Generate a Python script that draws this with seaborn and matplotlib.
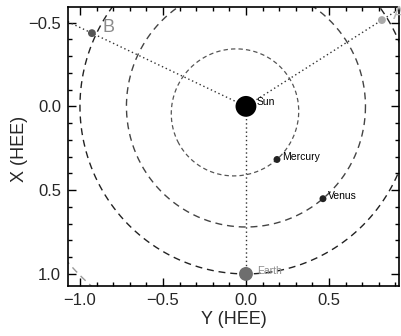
import numpy as np
import matplotlib
matplotlib.use("Agg")
import matplotlib.pyplot as plt
import seaborn as sns

# planet positions in HEE (Y horizontal, X vertical, X axis inverted)
bodies = ["Sun", "Mercury", "Venus", "Earth"]
body_y = [0.0, 0.187, 0.464, 0.0]
body_x = [0.0, 0.317, 0.551, 1.0]
body_sizes = [225, 25, 25, 100]
body_colors = ["black", "#222222", "#222222", "#6e6e6e"]
label_colors = ["black", "black", "black", "#8a8a8a"]

# STEREO spacecraft
stereo = ["B", "A"]
stereo_y = [-0.928, 0.819]
stereo_x = [-0.437, -0.515]
stereo_colors = ["#555555", "#aaaaaa"]
stereo_label_colors = ["#8a8a8a", "#bbbbbb"]

# orbits: circles around the Sun
orbit_radii = [0.72, 1.0, 1.42]
orbit_colors = ["#444444", "#222222", "#999999"]
# Mercury's eccentric orbit
merc_center = (-0.066, 0.036)
merc_axes = (0.386, 0.377)

sns.set_style("ticks")
plt.rcParams["font.family"] = ["Liberation Sans", "DejaVu Sans"]

fig = plt.figure(figsize=(4.01, 3.36), dpi=100)
ax = fig.add_axes([68 / 401, 50 / 336, 331 / 401, 279 / 336])

t = np.linspace(0, 2 * np.pi, 400)
ang = np.arctan2(merc_center[1], merc_center[0])
ex = merc_axes[0] * np.cos(t)
ey = merc_axes[1] * np.sin(t)
mx = merc_center[0] + ex * np.cos(ang) - ey * np.sin(ang)
my = merc_center[1] + ex * np.sin(ang) + ey * np.cos(ang)
ax.plot(mx, my, color="#555555", lw=0.9, linestyle=(0, (3.5, 2.5)))

for r, c in zip(orbit_radii, orbit_colors):
    ax.plot(r * np.cos(t), r * np.sin(t), color=c, lw=1.0, linestyle=(0, (5, 3.5)))

# dotted lines from the Sun
for sy, sx in zip(stereo_y, stereo_x):
    ax.plot([0, sy * 1.5], [0, sx * 1.5], color="#333333", lw=1.0, linestyle=(0, (1, 2)))
ax.plot([0, body_y[3]], [0, body_x[3]], color="#333333", lw=1.0, linestyle=(0, (1, 2)))

sns.scatterplot(x=body_y, y=body_x, s=body_sizes, c=body_colors, linewidth=0, ax=ax, zorder=5)
sns.scatterplot(x=stereo_y, y=stereo_x, s=32, c=stereo_colors, linewidth=0, ax=ax, zorder=5)

offsets = [(0.066, -0.024), (0.033, -0.012), (0.03, -0.018), (0.066, -0.02)]
for name, y, x, (dy, dx), c in zip(bodies, body_y, body_x, offsets, label_colors):
    ax.text(y + dy, x + dx, name, fontsize=7.5, color=c, va="center", ha="left", zorder=6)
for name, y, x, c in zip(stereo, stereo_y, stereo_x, stereo_label_colors):
    ax.text(y + 0.065, x - 0.035, name, fontsize=13, color=c, va="center", ha="left", zorder=6)

ax.set_xlim(-1.072, 0.922)
ax.set_ylim(1.072, -0.593)
ax.set_xticks([-1.0, -0.5, 0.0, 0.5])
ax.set_yticks([-0.5, 0.0, 0.5, 1.0])
ax.set_xticks(np.arange(-1.0, 0.95, 0.1), minor=True)
ax.set_yticks(np.arange(-0.5, 1.05, 0.1), minor=True)
fmt = matplotlib.ticker.FuncFormatter(lambda v, p: f"{v:.1f}".replace("-", "\u2212"))
ax.xaxis.set_major_formatter(fmt)
ax.yaxis.set_major_formatter(fmt)
ax.tick_params(which="both", direction="in", top=True, right=True, width=1.0, color="black")
ax.tick_params(which="major", length=6, labelsize=12, pad=5)
ax.tick_params(which="minor", length=3)
for s in ax.spines.values():
    s.set_linewidth(1.2)
    s.set_color("black")
ax.set_xlabel("Y (HEE)", fontsize=13, labelpad=2)
ax.set_ylabel("X (HEE)", fontsize=13, va="center")
ax.yaxis.set_label_coords(-0.148, 0.49)

fig.savefig("out.png", dpi=100)
